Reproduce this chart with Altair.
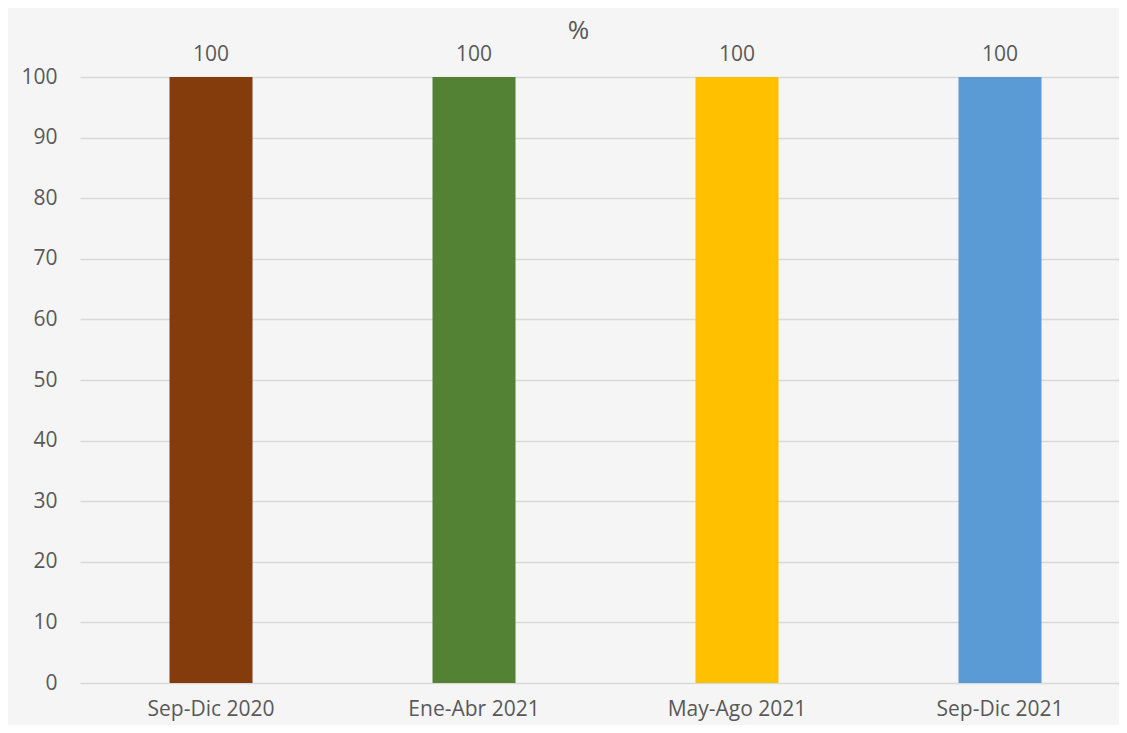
import altair as alt
import pandas as pd

categories = ["Sep-Dic 2020", "Ene-Abr 2021", "May-Ago 2021", "Sep-Dic 2021"]
values = [100, 100, 100, 100]
colors = ["#843C0C", "#548235", "#FFC000", "#5B9BD5"]

df = pd.DataFrame({"periodo": categories, "valor": values, "color": colors})

FONT = "Open Sans"
GREY = "#595959"

x = alt.X("periodo:N", sort=categories, title=None,
          scale=alt.Scale(paddingInner=0.6844, paddingOuter=0.3175, align=0.536),
          axis=alt.Axis(labelAngle=0, labelFontSize=21, labelColor=GREY, labelFont=FONT,
                        ticks=False, domain=False, labelPadding=15))
y = alt.Y("valor:Q", title=None,
          scale=alt.Scale(domain=[0, 100]),
          axis=alt.Axis(values=list(range(0, 101, 10)), labelFontSize=21, labelColor=GREY,
                        labelFont=FONT, ticks=False, domain=False, labelPadding=23,
                        gridColor="#d9d9d9", gridWidth=1.5))

bars = alt.Chart(df).mark_bar().encode(
    x=x, y=y, color=alt.Color("color:N", scale=None)
)
labels = alt.Chart(df).mark_text(baseline="alphabetic", dy=-16, fontSize=21, color=GREY, font=FONT).encode(
    x=alt.X("periodo:N", sort=categories), y="valor:Q", text="valor:Q"
)

chart = (bars + labels).properties(
    width=1039, height=606,
    autosize=alt.AutoSizeParams(type="none"),
    padding={"left": 72, "top": 69, "right": 0, "bottom": 42},
    background="#f5f5f5",
    title=alt.TitleParams("%", fontSize=26, font=FONT, color=GREY, fontWeight="normal",
                          anchor="middle", dx=-21, offset=0),
).configure_view(stroke=None)

chart.save("out.html", embed_options={"renderer": "svg", "actions": False})
